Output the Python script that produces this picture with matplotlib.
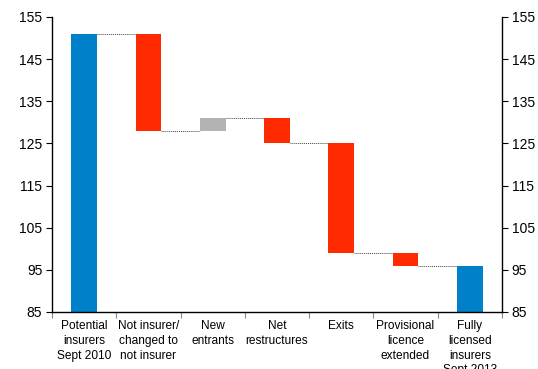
import matplotlib
matplotlib.use("Agg")
import matplotlib.pyplot as plt
import numpy as np

plt.rcParams['font.family'] = ['Liberation Sans', 'DejaVu Sans']

categories = ["Potential\ninsurers\nSept 2010", "Not insurer/\nchanged to\nnot insurer",
              "New\nentrants", "Net\nrestructures", "Exits",
              "Provisional\nlicence\nextended", "Fully\nlicensed\ninsurers\nSept 2013"]
start_total = 151
changes = [-23, 3, -6, -26, -3]
end_total = 96
yticks = [85, 95, 105, 115, 125, 135, 145, 155]

blue = "#0080C8"
red = "#FF2A00"
grey = "#B3B3B3"
ymin = 85

fig = plt.figure(figsize=(5.38, 3.69), dpi=100)
ax = fig.add_axes([0.0967, 0.1545, 0.8363, 0.7995])

width = 0.4
x = np.arange(len(categories))
# totals
ax.bar(x[0], start_total - ymin, bottom=ymin, width=width, color=blue)
ax.bar(x[-1], end_total - ymin, bottom=ymin, width=width, color=blue)

levels = [start_total]
cur = start_total
for i, c in enumerate(changes):
    new = cur + c
    lo, hi = min(cur, new), max(cur, new)
    ax.bar(x[i + 1], hi - lo, bottom=lo, width=width, color=red if c < 0 else grey)
    cur = new
    levels.append(cur)

# connectors
for i, lv in enumerate(levels):
    ax.plot([x[i] + width / 2, x[i + 1] - width / 2], [lv, lv],
            color="#444444", lw=0.7, ls=(0, (1, 1)))

ax.set_xlim(-0.5, len(categories) - 0.5)
ax.set_ylim(ymin, 155)
ax.set_yticks(yticks)
ax.tick_params(axis='y', labelsize=10, right=True, labelright=True, direction='out',
               length=4, width=0.8, pad=3)
ax.set_xticks(x)
ax.set_xticklabels(categories, fontsize=8.6, linespacing=1.3)
ax.tick_params(axis='x', length=0, pad=6)
ax.set_xticks(np.arange(len(categories) + 1) - 0.5, minor=True)
ax.tick_params(axis='x', which='minor', length=4, width=0.8, color="#888888")
ax.spines['top'].set_visible(False)
for s in ['left', 'right', 'bottom']:
    ax.spines[s].set_linewidth(1.0)

fig.savefig("out.png", dpi=100)
